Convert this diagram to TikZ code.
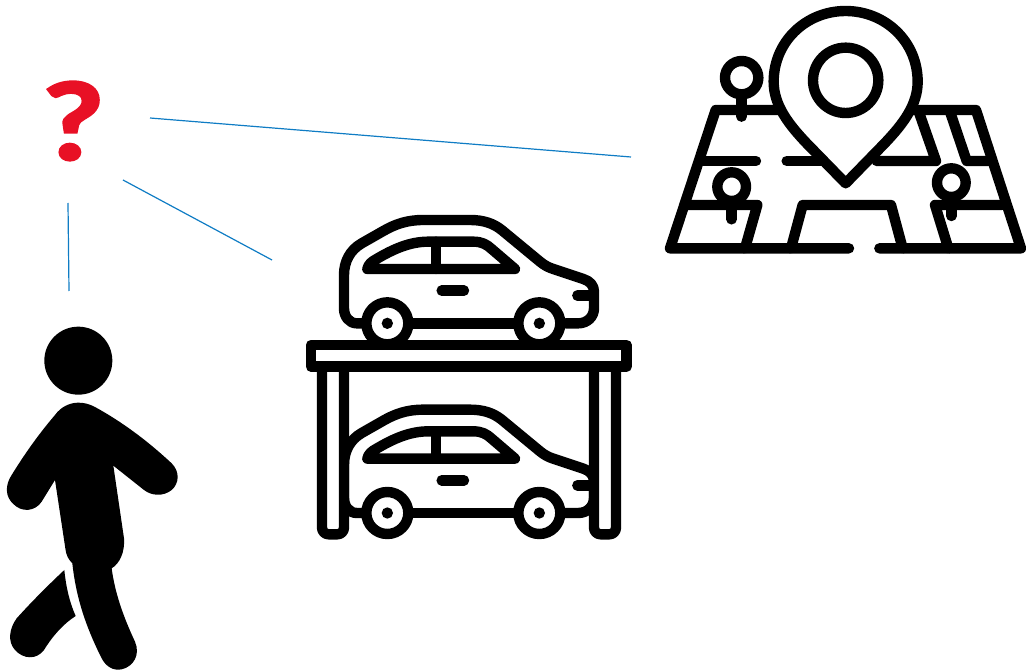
\documentclass[tikz,border=0pt]{standalone}
\usepackage{fontspec}
\newfontfamily\qfont[FakeStretch=1.22,FakeBold=2]{Carlito}
\definecolor{qred}{HTML}{E81025}
\definecolor{linkblue}{HTML}{0F7CC4}
\tikzset{
  link/.style={draw=linkblue,line width=0.9pt},
  ink/.style={draw=black,line width=7.8pt,line cap=round,line join=round},
  zoomed/.style={x=0.25pt,y=-0.25pt},
  pt/.style={inner sep=0pt,minimum size=0pt},
  carwheel/.style={ink,fill=white},
}
\newcommand{\carshape}{%
  \draw[ink] (185,355) -- (170,355) .. controls (148,355) and (132,335) .. (132,310) -- (132,210)
    .. controls (132,170) and (150,135) .. (185,115) -- (250,78)
    .. controls (285,58) and (320,45) .. (370,45) -- (510,45)
    .. controls (550,45) and (580,55) .. (605,75) -- (720,170)
    .. controls (735,182) and (745,187) .. (760,192) -- (850,222)
    .. controls (870,228) and (882,242) .. (882,260) -- (882,310)
    .. controls (882,335) and (862,355) .. (835,355) -- (797,355);
  \draw[ink] (340,355) -- (640,355);
  \draw[ink] (202,192) .. controls (205,178) and (215,170) .. (228,163)
    .. controls (280,132) and (330,110) .. (385,110) -- (520,110)
    .. controls (545,110) and (560,118) .. (575,132) -- (645,192) -- cycle;
  \draw[ink] (408,110) -- (408,192);
  \draw[ink] (425,257) -- (492,257);
  \draw[ink] (832,272) -- (880,272);
  \draw[carwheel] (262,355) circle (63);
  \draw[carwheel] (718,355) circle (63);
  \fill (262,355) circle (17);
  \fill (718,355) circle (17);
}
\begin{document}
\begin{tikzpicture}[x=0.75pt,y=-0.75pt]
\useasboundingbox (0,0) rectangle (1026,670);
% question mark
\node[pt,text=qred] (question) at (73,121) {\qfont\bfseries\fontsize{85pt}{85pt}\selectfont ?};
% anchors for the connectors
\coordinate (qmap) at (150,118);
\coordinate (mapend) at (631,157);
\coordinate (qcar) at (123,180);
\coordinate (carend) at (272,260);
\coordinate (qman) at (68,203);
\coordinate (manend) at (69,291);
\draw[link] (qmap) -- (mapend);
\draw[link] (qcar) -- (carend);
\draw[link] (qman) -- (manend);
% map
\begin{scope}[shift={(650,0)},zoomed]
  \draw[ink] (390,330) -- (197,330) -- (60,745) -- (597,745);
  \draw[ink] (688,745) -- (1113,745) -- (978,330) -- (790,330);
  \draw[ink] (160,483) -- (318,483);
  \draw[ink] (410,483) -- (520,483);
  \draw[ink] (680,483) -- (858,483) -- (808,340);
  \draw[ink] (900,335) -- (950,483) -- (1020,483);
  \draw[ink] (115,615) -- (322,615) -- (285,745);
  \draw[ink] (423,745) -- (458,615) -- (723,615) -- (758,745);
  \draw[ink] (1055,615) -- (855,615) -- (895,745);
  \draw[ink,fill=white] (275,233) circle (50);
  \draw[ink] (275,290) -- (275,350);
  \draw[ink,fill=white] (245,560) circle (43);
  \draw[ink] (245,612) -- (245,658);
  \draw[ink,fill=white] (904,548) circle (43);
  \draw[ink] (904,600) -- (904,648);
  \draw[ink,fill=white] (587,550) -- (470,430)
    .. controls (415,372) and (371,315) .. (371,245)
    .. controls (371,125) and (468,33) .. (587,33)
    .. controls (706,33) and (803,125) .. (803,245)
    .. controls (803,315) and (759,372) .. (704,430) -- cycle;
  \draw[ink] (587,241) circle (98);
\end{scope}
% car park
\begin{scope}[shift={(300,205)},zoomed]
  \carshape
  \begin{scope}
    \clip (132,500) rectangle (882,1030);
    \begin{scope}[yshift=-142.25pt]
      \carshape
    \end{scope}
  \end{scope}
  \draw[ink,rounded corners=5pt] (66,485) -- (66,988) -- (132,988) -- (132,485);
  \draw[ink,rounded corners=5pt] (882,485) -- (882,988) -- (948,988) -- (948,485);
  \draw[ink,fill=white] (33,420) rectangle (980,485);
\end{scope}
% walking man
\begin{scope}[shift={(0,320)},zoomed]
  \fill (235,122) circle (102);
  \fill (235,248) .. controls (252,248) and (268,252) .. (285,261)
    .. controls (365,305) and (440,360) .. (515,430)
    .. controls (540,455) and (538,490) .. (515,510)
    .. controls (490,530) and (455,528) .. (432,510)
    -- (340,437) -- (372,655)
    .. controls (375,695) and (360,730) .. (335,745)
    .. controls (345,820) and (370,890) .. (405,965)
    .. controls (422,1005) and (400,1040) .. (365,1048)
    .. controls (340,1053) and (318,1040) .. (305,1015)
    .. controls (255,915) and (228,830) .. (217,730)
    .. controls (205,718) and (198,705) .. (196,685)
    -- (165,480) -- (125,545)
    .. controls (105,575) and (65,578) .. (40,552)
    .. controls (15,530) and (15,495) .. (35,465)
    .. controls (75,400) and (118,340) .. (165,285)
    .. controls (183,260) and (210,248) .. (235,248) -- cycle;
  \fill (193,750) .. controls (198,800) and (208,845) .. (227,888)
    .. controls (190,912) and (160,945) .. (132,990)
    .. controls (110,1020) and (70,1018) .. (45,990)
    .. controls (22,965) and (28,925) .. (50,895)
    .. controls (95,845) and (145,795) .. (193,750) -- cycle;
\end{scope}
\end{tikzpicture}
\end{document}
